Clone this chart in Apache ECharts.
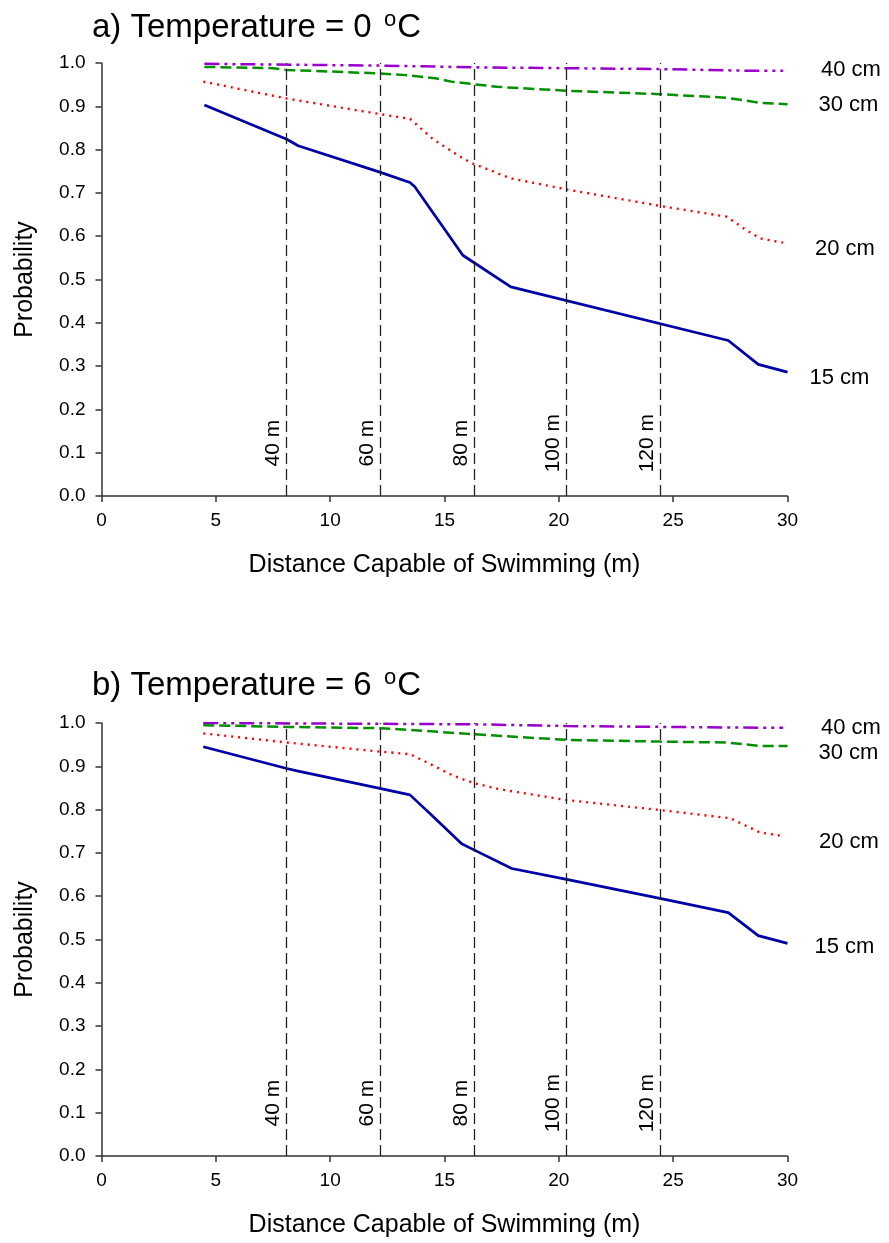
<!DOCTYPE html>
<html>
<head>
<meta charset="utf-8">
<script src="https://cdn.jsdelivr.net/npm/echarts@6/dist/echarts.min.js"></script>
<style>
html,body{margin:0;padding:0;background:#fff;}
#chart{width:889px;height:1243px;}
</style>
</head>
<body>
<div id="chart"></div>
<script>
// ---- data (x = distance capable of swimming, m; y = probability) ----
const titleA = 'a) Temperature = 0 ';
const titleB = 'b) Temperature = 6 ';
const seriesNames = ['15 cm', '20 cm', '30 cm', '40 cm'];

const a15 = [[4.5,0.903],[8.1,0.824],[8.6,0.809],[12.17,0.748],[13.49,0.724],[13.7,0.714],[15.8,0.556],[17.9,0.483],[27.41,0.359],[28.72,0.304],[30,0.286]];
const a20 = [[4.45,0.957],[8.1,0.918],[12.17,0.882],[13.49,0.871],[14.5,0.824],[15.67,0.784],[16.29,0.766],[16.69,0.759],[17.86,0.734],[20.34,0.708],[24.42,0.670],[27.34,0.645],[28.2,0.614],[28.8,0.595],[29.8,0.585]];
const a30 = [[4.5,0.991],[7.5,0.988],[8.1,0.984],[12.17,0.976],[13.3,0.972],[14.6,0.965],[15.3,0.957],[16.29,0.951],[17.3,0.945],[20.34,0.936],[24.42,0.928],[27.3,0.920],[28.8,0.908],[30,0.905]];
const a40 = [[4.5,0.998],[12.17,0.994],[16.29,0.990],[20.34,0.988],[24.42,0.986],[28.4,0.982],[29.8,0.982]];

const b15 = [[4.45,0.945],[8.1,0.895],[8.6,0.889],[12.17,0.849],[13.49,0.834],[14.5,0.784],[15.75,0.721],[16.29,0.707],[17.94,0.664],[20.34,0.639],[24.42,0.595],[27.41,0.562],[28.72,0.509],[30,0.491]];
const b20 = [[4.45,0.976],[8.1,0.955],[12.17,0.934],[13.49,0.928],[14.15,0.911],[15.39,0.878],[16.29,0.861],[17.4,0.847],[20.34,0.822],[24.42,0.799],[27.5,0.780],[28.8,0.747],[29.8,0.739]];
const b30 = [[4.45,0.995],[8.1,0.991],[12.17,0.988],[13.49,0.984],[16.29,0.974],[20.34,0.961],[24.42,0.957],[27.3,0.955],[28.8,0.947],[30,0.947]];
const b40 = [[4.45,1.0],[16.29,0.997],[20.34,0.993],[28.8,0.989],[29.8,0.989]];

// reference distances (vertical dashed lines)
const refX = [8.09, 12.17, 16.29, 20.34, 24.42];
const refLabels = ['40 m', '60 m', '80 m', '100 m', '120 m'];
const refLabelY = 0.122;

// axes
const xMin = 0, xMax = 30, xStep = 5;
const yMin = 0, yMax = 1, yStep = 0.1;
const xName = 'Distance Capable of Swimming (m)';
const yName = 'Probability';

// ---- styling ----
const FONT = "'Liberation Sans', Arial, sans-serif";
const colors = { '15 cm': '#0000A8', '20 cm': '#FF0000', '30 cm': '#009000', '40 cm': '#9900CC' };
const lineTypes = { '15 cm': 'solid', '20 cm': [2, 5], '30 cm': [11, 5], '40 cm': [15, 5, 3, 5, 3, 5] };
const widths = { '15 cm': 2.7, '20 cm': 2.4, '30 cm': 2.5, '40 cm': 2.5 };

const endLabelA = { '15 cm': [22, 6], '20 cm': [32, 6], '30 cm': [31, 1], '40 cm': [38, -1] };
const endLabelB = { '15 cm': [27, 4], '20 cm': [36, 6], '30 cm': [31, 7], '40 cm': [38, 0] };

const grids = [
  { left: 101.5, top: 63, width: 686, height: 433 },
  { left: 101.5, top: 723, width: 686, height: 433 }
];

function xAxisFor(i) {
  return {
    gridIndex: i, type: 'value', min: xMin, max: xMax, interval: xStep,
    name: xName, nameLocation: 'middle', nameGap: 57,
    nameTextStyle: { fontFamily: FONT, fontSize: 25, color: '#000' },
    axisLine: { show: true, onZero: false, lineStyle: { color: '#333', width: 1.5 } },
    axisTick: { show: true, inside: false, length: 6, lineStyle: { color: '#333', width: 1.5 } },
    axisLabel: { fontFamily: FONT, fontSize: 19, color: '#000', margin: 15 },
    splitLine: { show: false }
  };
}
function yAxisFor(i) {
  return {
    gridIndex: i, type: 'value', min: yMin, max: yMax, interval: yStep,
    name: yName, nameLocation: 'middle', nameGap: 64, nameRotate: 90,
    nameTextStyle: { fontFamily: FONT, fontSize: 25, color: '#000' },
    axisLine: { show: true, lineStyle: { color: '#333', width: 1.5 } },
    axisTick: { show: true, inside: false, length: 6, lineStyle: { color: '#333', width: 1.5 } },
    axisLabel: { fontFamily: FONT, fontSize: 19, color: '#000', margin: 16,
      formatter: v => v.toFixed(1) },
    splitLine: { show: false }
  };
}

function lineSeries(i, name, data, endOff) {
  return {
    type: 'line', name: name, xAxisIndex: i, yAxisIndex: i, data: data,
    showSymbol: false, symbol: 'none', smooth: false, animation: false,
    lineStyle: { color: colors[name], width: widths[name], type: lineTypes[name] },
    endLabel: { show: true, formatter: name, distance: endOff[0], offset: [0, endOff[1]],
      fontFamily: FONT, fontSize: 22, color: '#000' },
    z: 3
  };
}

function refSeries(i) {
  return {
    type: 'scatter', xAxisIndex: i, yAxisIndex: i, animation: false,
    symbolSize: 0, itemStyle: { opacity: 1 },
    data: refX.map((x, k) => ({ value: [x, refLabelY], name: refLabels[k] })),
    label: { show: true, formatter: p => p.name, rotate: 90, position: 'inside',
      offset: [0, -13], fontFamily: FONT, fontSize: 21, color: '#000', opacity: 1 },
    markLine: {
      silent: true, symbol: 'none', animation: false,
      label: { show: false },
      lineStyle: { color: '#222', width: 1.3, type: [11, 5] },
      data: refX.map(x => ({ xAxis: x }))
    },
    z: 2
  };
}

function titleFor(text, top) {
  return {
    text: text + '{sup|o}C', left: 92, top: top, padding: 0,
    textStyle: { fontFamily: FONT, fontSize: 33, fontWeight: 'normal', color: '#000',
      rich: { sup: { fontFamily: FONT, fontSize: 22, color: '#000', verticalAlign: 'top', padding: [0, 1, 16, 3] } } }
  };
}

const chart = echarts.init(document.getElementById('chart'), null, { renderer: 'canvas' });
chart.setOption({
  backgroundColor: '#fff',
  animation: false,
  title: [titleFor(titleA, 9), titleFor(titleB, 667)],
  grid: grids,
  xAxis: [xAxisFor(0), xAxisFor(1)],
  yAxis: [yAxisFor(0), yAxisFor(1)],
  series: [
    refSeries(0),
    lineSeries(0, '40 cm', a40, endLabelA['40 cm']),
    lineSeries(0, '30 cm', a30, endLabelA['30 cm']),
    lineSeries(0, '20 cm', a20, endLabelA['20 cm']),
    lineSeries(0, '15 cm', a15, endLabelA['15 cm']),
    refSeries(1),
    lineSeries(1, '40 cm', b40, endLabelB['40 cm']),
    lineSeries(1, '30 cm', b30, endLabelB['30 cm']),
    lineSeries(1, '20 cm', b20, endLabelB['20 cm']),
    lineSeries(1, '15 cm', b15, endLabelB['15 cm'])
  ]
});
</script>
</body>
</html>
